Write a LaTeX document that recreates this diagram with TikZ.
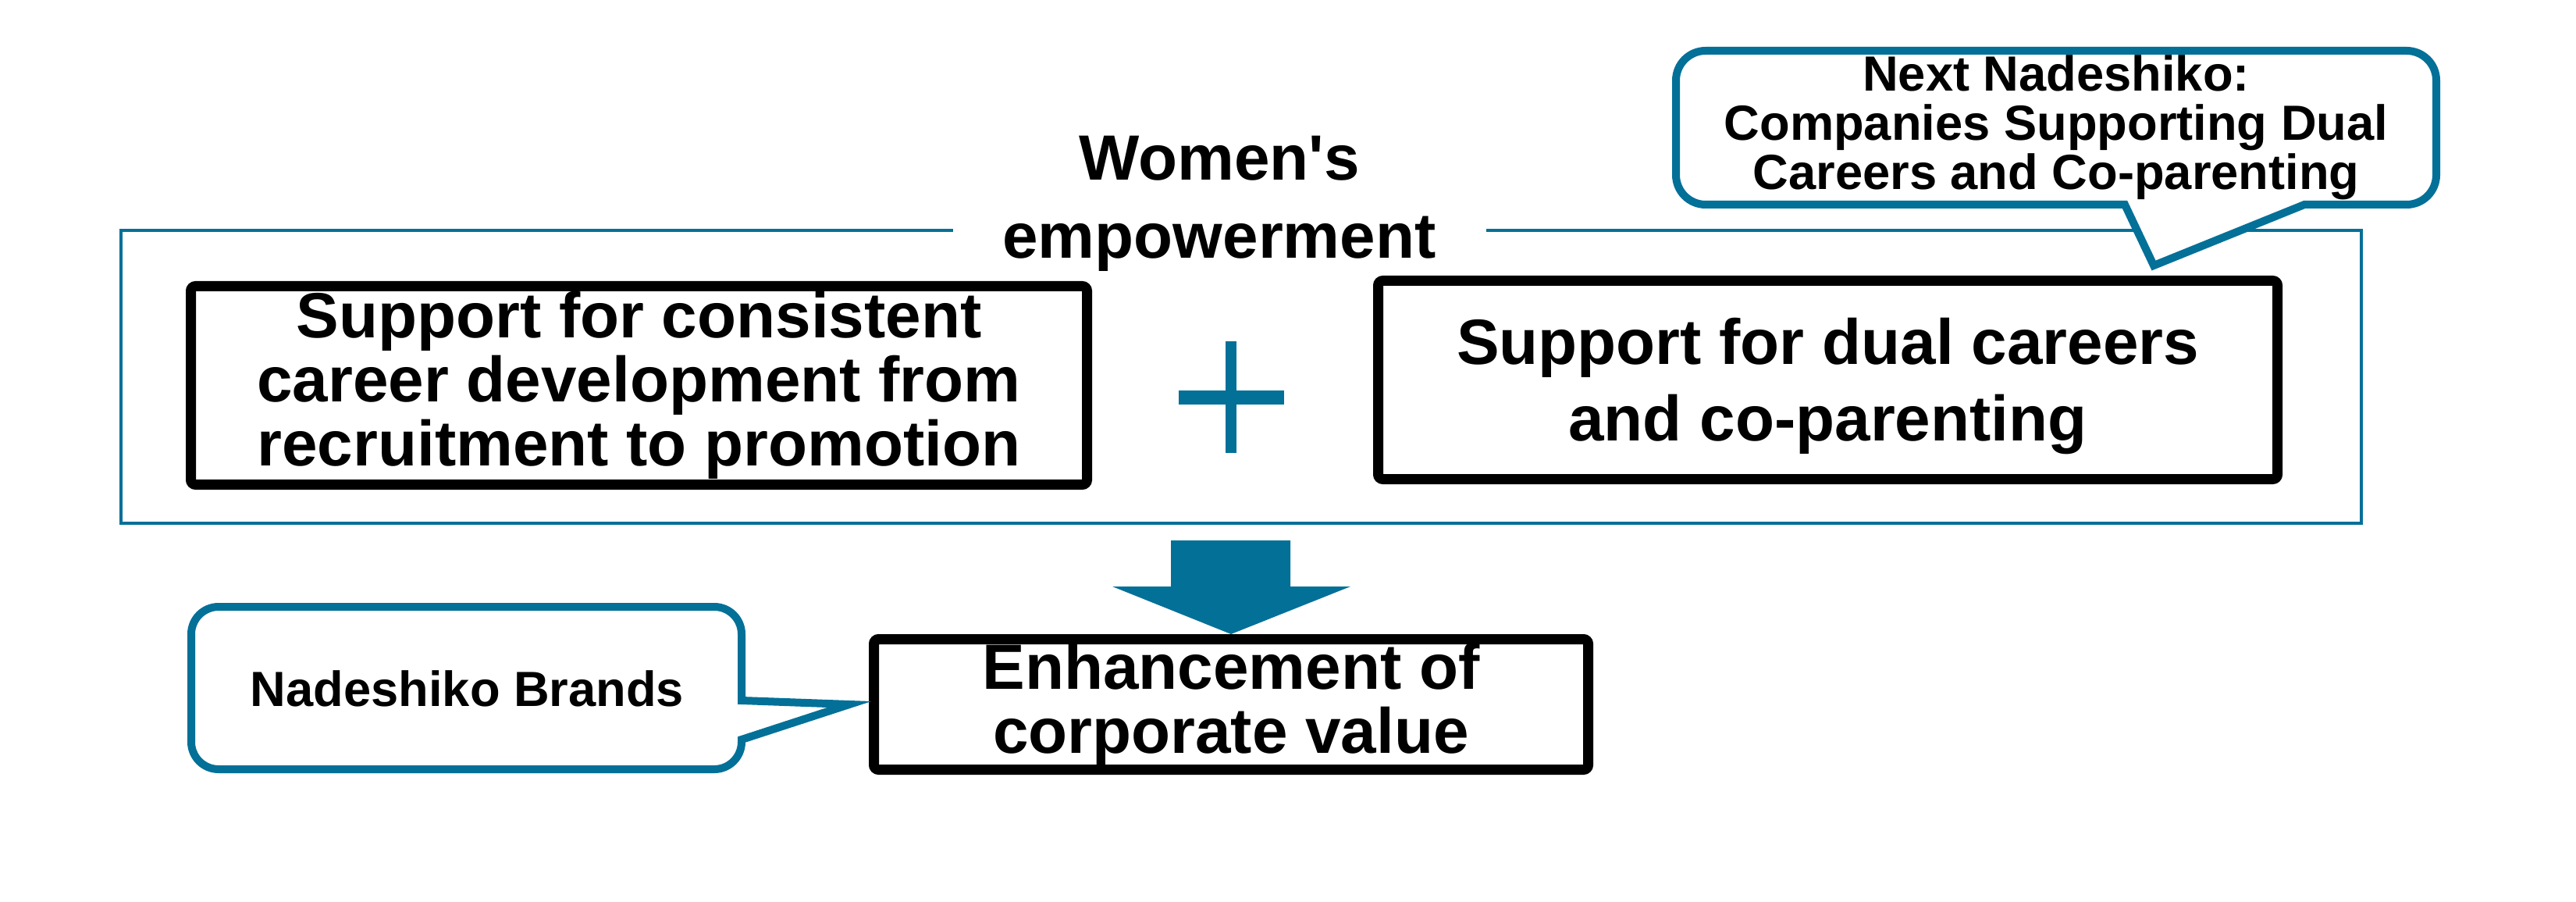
\documentclass[tikz,border=0pt]{standalone}
\usepackage{fontspec}
\setmainfont{Liberation Sans}
\usepackage{tikz}
\definecolor{nadeblue}{RGB}{3,112,152}
\newcommand{\bigtxt}{\fontsize{23.3}{23.3}\selectfont\bfseries}
\newcommand{\smalltxt}{\fontsize{18}{18}\selectfont\bfseries}

\begin{document}
\begin{tikzpicture}[
  blackbox/.style={draw=black, line width=0.13cm, rounded corners=0.06cm, inner sep=0pt, align=center, font=\bigtxt},
  calloutline/.style={draw=nadeblue, fill=white, line width=0.1cm}
]
\path[fill=white] (0,0) rectangle (33,-11.55);

%%Frame
\draw[nadeblue, line width=0.04cm] (1.55,-2.95) rectangle (30.25,-6.70);
\node[fill=white, minimum width=6.83cm, inner sep=0pt, align=center,
  font={\fontsize{23.3}{28.5}\selectfont\bfseries}] (title) at (15.62,-2.605) {Women\textquotesingle s\\empowerment};

%%Boxes
\node[blackbox, minimum width=11.48cm, minimum height=2.54cm] (cdev) at (8.185,-4.935)
  {Support for consistent\\career development from\\recruitment to promotion};
\node[blackbox, minimum width=11.52cm, minimum height=2.54cm,
  font={\fontsize{23.3}{27.9}\selectfont\bfseries}] (dual) at (23.415,-4.865)
  {\rule{0pt}{0.76cm}Support for dual careers\\and co-parenting};
\node[blackbox, minimum width=9.15cm, minimum height=1.67cm] (enh) at (15.77,-9.02)
  {Enhancement of\\corporate value};

%%Plus
\coordinate (plus) at (15.77,-5.09);
\draw[nadeblue, line width=0.14cm] (plus) ++(0,0.72) -- ++(0,-1.43);
\draw[nadeblue, line width=0.18cm] (plus) ++(-0.675,0) -- ++(1.35,0);

%%Arrow
\fill[nadeblue] (enh.north) -- ++(-1.52,0.61) -- ++(0.75,0) -- ++(0,0.59) -- ++(1.53,0)
  -- ++(0,-0.59) -- ++(0.77,0) -- cycle;

%%TopCallout
\draw[calloutline] (27.22,-2.62) -- (27.59,-3.40) -- (29.52,-2.62) -- (30.83,-2.62)
  arc[start angle=-90, end angle=0, radius=0.38] -- (31.21,-1.03)
  arc[start angle=0, end angle=90, radius=0.38] -- (21.85,-0.65)
  arc[start angle=90, end angle=180, radius=0.38] -- (21.47,-2.24)
  arc[start angle=180, end angle=270, radius=0.38] -- cycle;
\node[align=center, inner sep=0pt, font=\smalltxt] (nexttxt) at (26.34,-1.635)
  {Next Nadeshiko:\\Companies Supporting Dual\\Careers and Co-parenting};

%%BottomCallout
\draw[calloutline] (9.50,-8.97) -- (10.88,-9.02) -- (9.50,-9.47) -- (9.50,-9.50)
  arc[start angle=0, end angle=-90, radius=0.35] -- (2.80,-9.85)
  arc[start angle=270, end angle=180, radius=0.35] -- (2.45,-8.12)
  arc[start angle=180, end angle=90, radius=0.35] -- (9.15,-7.77)
  arc[start angle=90, end angle=0, radius=0.35] -- cycle;
\node[inner sep=0pt, font=\smalltxt] (brandtxt) at (5.985,-8.82) {Nadeshiko Brands};
\end{tikzpicture}
\end{document}
